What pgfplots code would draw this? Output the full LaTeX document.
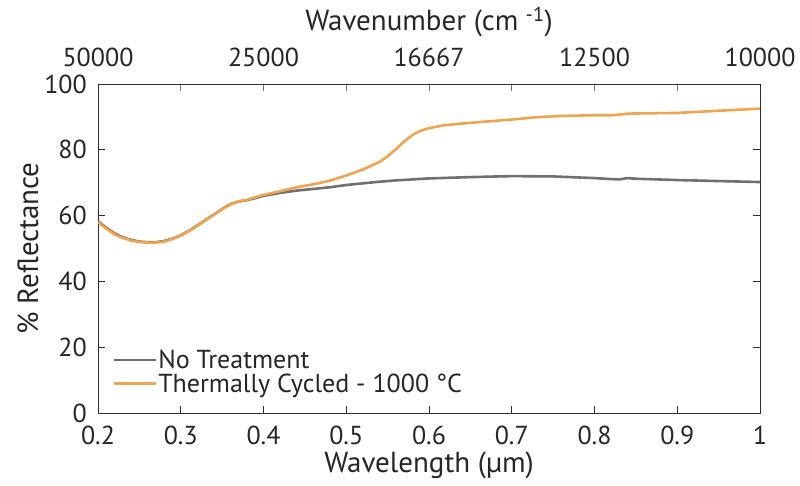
\documentclass[border=0pt]{standalone}
\usepackage{fontspec}
\setmainfont{PT Sans}
\usepackage{pgfplots}
\pgfplotsset{compat=1.18}
\definecolor{cgray}{RGB}{112,112,112}
\definecolor{corange}{RGB}{240,164,80}
\definecolor{caxis}{RGB}{45,45,45}
\definecolor{ctop}{RGB}{120,120,120}
\begin{document}
\begin{tikzpicture}
\useasboundingbox (-98pt,-73pt) rectangle (702pt,413pt);
\pgfplotsset{
  every axis/.append style={
    scale only axis, width=662pt, height=329pt,
    xmin=0.2, xmax=1, ymin=0, ymax=100,
    /pgf/number format/assume math mode=true,
    tick label style={font=\fontsize{26}{30}\selectfont},
    label style={font=\fontsize{29}{33}\selectfont},
    major tick length=7pt,
  }
}
\begin{axis}[
  at={(0,0)}, anchor=south west,
  axis x line*=top, axis y line=none,
  axis line style={ctop, line width=0.9pt},
  major tick style={ctop, line width=0.9pt},
  xtick={0.2,0.3,...,1.01},
  xticklabels={50000,,25000,,16667,,12500,,10000},
  xtick align=inside,
  xlabel={Wavenumber (cm\hspace{0.25em}\textsuperscript{-1})},
  xticklabel style={anchor=center, yshift=27pt, text=black!85},
  xlabel style={at={(axis description cs:0.5,1)}, anchor=center, yshift=62pt, text=black!85},
]
\end{axis}
\begin{axis}[
  at={(0,0)}, anchor=south west,
  axis line style={caxis, line width=0.9pt},
  major tick style={caxis, line width=0.9pt},
  xtick={0.2,0.3,...,1.01},
  xticklabels={0.2,0.3,0.4,0.5,0.6,0.7,0.8,0.9,1},
  ytick={0,20,...,100},
  xtick pos=bottom,
  tick align=inside,
  xticklabel style={anchor=center, yshift=-22pt, text=black!85},
  yticklabel style={anchor=east, inner sep=0pt, xshift=-11pt, text=black!85},
  xlabel={Wavelength (µm)},
  ylabel={\% Reflectance},
  xlabel style={at={(axis description cs:0.5,0)}, anchor=center, yshift=-52pt, text=black!85},
  ylabel style={at={(axis description cs:0,0.5)}, anchor=center, yshift=70pt, text=black!85},
  legend style={at={(0.022,0.055)}, anchor=south west, draw=none, fill=none,
    font=\fontsize{26}{30}\selectfont, inner sep=0pt, row sep=1.5pt,
    nodes={inner sep=1pt, text=black!85},
    legend cell align=left},
  legend image code/.code={\draw[#1, line width=2.5pt] (0pt,0pt) -- (42pt,0pt);},
]
\addplot[cgray, line width=2.6pt, line join=round] coordinates {
(0.20,58.3)(0.21,56.3)(0.22,54.6)(0.23,53.4)(0.24,52.6)(0.25,52.1)(0.26,51.9)(0.27,51.9)
(0.28,52.3)(0.29,53.0)(0.30,54.0)(0.31,55.4)(0.32,57.0)(0.33,58.7)(0.34,60.3)(0.35,62.0)
(0.36,63.5)(0.37,64.3)(0.38,64.7)(0.39,65.3)(0.40,66.0)(0.42,66.9)(0.44,67.6)(0.46,68.1)
(0.48,68.6)(0.50,69.3)(0.52,69.8)(0.54,70.3)(0.56,70.7)(0.58,71.0)(0.60,71.3)(0.65,71.7)
(0.70,72.0)(0.75,71.9)(0.80,71.4)(0.82,71.1)(0.83,71.0)(0.84,71.4)(0.85,71.2)(0.90,70.8)
(0.95,70.5)(1.00,70.2)
};
\addlegendentry{No Treatment}
\addplot[corange, line width=2.6pt, line join=round] coordinates {
(0.20,58.0)(0.21,56.0)(0.22,54.3)(0.23,53.2)(0.24,52.4)(0.25,52.0)(0.26,51.8)(0.27,51.8)
(0.28,52.1)(0.29,52.9)(0.30,53.9)(0.31,55.3)(0.32,56.9)(0.33,58.6)(0.34,60.2)(0.35,61.9)
(0.36,63.4)(0.37,64.3)(0.38,64.8)(0.39,65.6)(0.40,66.3)(0.42,67.4)(0.44,68.6)(0.46,69.5)
(0.48,70.6)(0.50,72.2)(0.52,74.0)(0.54,76.3)(0.55,78.0)(0.56,80.2)(0.57,82.5)(0.58,84.5)
(0.59,85.8)(0.60,86.6)(0.62,87.5)(0.65,88.2)(0.70,89.2)(0.73,89.9)(0.76,90.3)(0.80,90.5)
(0.82,90.5)(0.83,90.7)(0.84,91.0)(0.87,91.1)(0.90,91.2)(0.93,91.6)(0.96,92.0)(1.00,92.5)
};
\addlegendentry{Thermally Cycled - 1000 °C}
\end{axis}
\end{tikzpicture}
\end{document}
